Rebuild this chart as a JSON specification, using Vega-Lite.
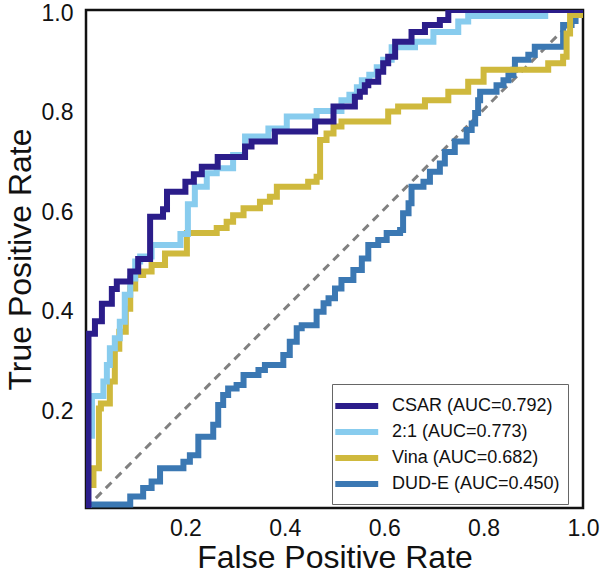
{
  "$schema": "https://vega.github.io/schema/vega-lite/v6.json",
  "autosize": {"type": "none"},
  "width": 497,
  "height": 498,
  "padding": {"left": 86, "top": 10, "right": 17, "bottom": 68},
  "background": "white",
  "datasets": {
    "roc": [
      {"model": "CSAR (AUC=0.792)", "fpr": 0, "tpr": 0},
      {"model": "CSAR (AUC=0.792)", "fpr": 0.005, "tpr": 0.35},
      {"model": "CSAR (AUC=0.792)", "fpr": 0.018, "tpr": 0.375},
      {"model": "CSAR (AUC=0.792)", "fpr": 0.032, "tpr": 0.41},
      {"model": "CSAR (AUC=0.792)", "fpr": 0.052, "tpr": 0.44},
      {"model": "CSAR (AUC=0.792)", "fpr": 0.062, "tpr": 0.455},
      {"model": "CSAR (AUC=0.792)", "fpr": 0.089, "tpr": 0.475},
      {"model": "CSAR (AUC=0.792)", "fpr": 0.105, "tpr": 0.5},
      {"model": "CSAR (AUC=0.792)", "fpr": 0.129, "tpr": 0.585},
      {"model": "CSAR (AUC=0.792)", "fpr": 0.155, "tpr": 0.6},
      {"model": "CSAR (AUC=0.792)", "fpr": 0.163, "tpr": 0.635},
      {"model": "CSAR (AUC=0.792)", "fpr": 0.2, "tpr": 0.655},
      {"model": "CSAR (AUC=0.792)", "fpr": 0.217, "tpr": 0.67},
      {"model": "CSAR (AUC=0.792)", "fpr": 0.233, "tpr": 0.685},
      {"model": "CSAR (AUC=0.792)", "fpr": 0.265, "tpr": 0.705},
      {"model": "CSAR (AUC=0.792)", "fpr": 0.32, "tpr": 0.726},
      {"model": "CSAR (AUC=0.792)", "fpr": 0.333, "tpr": 0.736},
      {"model": "CSAR (AUC=0.792)", "fpr": 0.38, "tpr": 0.756},
      {"model": "CSAR (AUC=0.792)", "fpr": 0.461, "tpr": 0.776},
      {"model": "CSAR (AUC=0.792)", "fpr": 0.498, "tpr": 0.806},
      {"model": "CSAR (AUC=0.792)", "fpr": 0.541, "tpr": 0.826},
      {"model": "CSAR (AUC=0.792)", "fpr": 0.551, "tpr": 0.836},
      {"model": "CSAR (AUC=0.792)", "fpr": 0.561, "tpr": 0.849},
      {"model": "CSAR (AUC=0.792)", "fpr": 0.568, "tpr": 0.856},
      {"model": "CSAR (AUC=0.792)", "fpr": 0.588, "tpr": 0.876},
      {"model": "CSAR (AUC=0.792)", "fpr": 0.598, "tpr": 0.893},
      {"model": "CSAR (AUC=0.792)", "fpr": 0.608, "tpr": 0.906},
      {"model": "CSAR (AUC=0.792)", "fpr": 0.622, "tpr": 0.936},
      {"model": "CSAR (AUC=0.792)", "fpr": 0.655, "tpr": 0.956},
      {"model": "CSAR (AUC=0.792)", "fpr": 0.682, "tpr": 0.97},
      {"model": "CSAR (AUC=0.792)", "fpr": 0.712, "tpr": 0.98},
      {"model": "CSAR (AUC=0.792)", "fpr": 0.729, "tpr": 1.0},
      {"model": "CSAR (AUC=0.792)", "fpr": 1.0, "tpr": 1.0},

      {"model": "2:1 (AUC=0.773)", "fpr": 0, "tpr": 0},
      {"model": "2:1 (AUC=0.773)", "fpr": 0.004, "tpr": 0.145},
      {"model": "2:1 (AUC=0.773)", "fpr": 0.012, "tpr": 0.225},
      {"model": "2:1 (AUC=0.773)", "fpr": 0.035, "tpr": 0.254},
      {"model": "2:1 (AUC=0.773)", "fpr": 0.042, "tpr": 0.287},
      {"model": "2:1 (AUC=0.773)", "fpr": 0.048, "tpr": 0.321},
      {"model": "2:1 (AUC=0.773)", "fpr": 0.058, "tpr": 0.341},
      {"model": "2:1 (AUC=0.773)", "fpr": 0.068, "tpr": 0.374},
      {"model": "2:1 (AUC=0.773)", "fpr": 0.078, "tpr": 0.428},
      {"model": "2:1 (AUC=0.773)", "fpr": 0.089, "tpr": 0.461},
      {"model": "2:1 (AUC=0.773)", "fpr": 0.099, "tpr": 0.495},
      {"model": "2:1 (AUC=0.773)", "fpr": 0.109, "tpr": 0.505},
      {"model": "2:1 (AUC=0.773)", "fpr": 0.132, "tpr": 0.528},
      {"model": "2:1 (AUC=0.773)", "fpr": 0.19, "tpr": 0.55},
      {"model": "2:1 (AUC=0.773)", "fpr": 0.205, "tpr": 0.61},
      {"model": "2:1 (AUC=0.773)", "fpr": 0.219, "tpr": 0.645},
      {"model": "2:1 (AUC=0.773)", "fpr": 0.243, "tpr": 0.672},
      {"model": "2:1 (AUC=0.773)", "fpr": 0.263, "tpr": 0.682},
      {"model": "2:1 (AUC=0.773)", "fpr": 0.296, "tpr": 0.709},
      {"model": "2:1 (AUC=0.773)", "fpr": 0.32, "tpr": 0.746},
      {"model": "2:1 (AUC=0.773)", "fpr": 0.367, "tpr": 0.762},
      {"model": "2:1 (AUC=0.773)", "fpr": 0.404, "tpr": 0.786},
      {"model": "2:1 (AUC=0.773)", "fpr": 0.464, "tpr": 0.797},
      {"model": "2:1 (AUC=0.773)", "fpr": 0.514, "tpr": 0.819},
      {"model": "2:1 (AUC=0.773)", "fpr": 0.53, "tpr": 0.83},
      {"model": "2:1 (AUC=0.773)", "fpr": 0.545, "tpr": 0.845},
      {"model": "2:1 (AUC=0.773)", "fpr": 0.555, "tpr": 0.859},
      {"model": "2:1 (AUC=0.773)", "fpr": 0.57, "tpr": 0.87},
      {"model": "2:1 (AUC=0.773)", "fpr": 0.585, "tpr": 0.885},
      {"model": "2:1 (AUC=0.773)", "fpr": 0.598, "tpr": 0.9},
      {"model": "2:1 (AUC=0.773)", "fpr": 0.615, "tpr": 0.925},
      {"model": "2:1 (AUC=0.773)", "fpr": 0.662, "tpr": 0.936},
      {"model": "2:1 (AUC=0.773)", "fpr": 0.699, "tpr": 0.956},
      {"model": "2:1 (AUC=0.773)", "fpr": 0.749, "tpr": 0.977},
      {"model": "2:1 (AUC=0.773)", "fpr": 0.769, "tpr": 0.988},
      {"model": "2:1 (AUC=0.773)", "fpr": 0.924, "tpr": 1.0},
      {"model": "2:1 (AUC=0.773)", "fpr": 1.0, "tpr": 1.0},

      {"model": "Vina (AUC=0.682)", "fpr": 0, "tpr": 0},
      {"model": "Vina (AUC=0.682)", "fpr": 0.003, "tpr": 0.046},
      {"model": "Vina (AUC=0.682)", "fpr": 0.015, "tpr": 0.08},
      {"model": "Vina (AUC=0.682)", "fpr": 0.026, "tpr": 0.2},
      {"model": "Vina (AUC=0.682)", "fpr": 0.03, "tpr": 0.21},
      {"model": "Vina (AUC=0.682)", "fpr": 0.048, "tpr": 0.254},
      {"model": "Vina (AUC=0.682)", "fpr": 0.058, "tpr": 0.32},
      {"model": "Vina (AUC=0.682)", "fpr": 0.067, "tpr": 0.354},
      {"model": "Vina (AUC=0.682)", "fpr": 0.08, "tpr": 0.4},
      {"model": "Vina (AUC=0.682)", "fpr": 0.089, "tpr": 0.441},
      {"model": "Vina (AUC=0.682)", "fpr": 0.099, "tpr": 0.468},
      {"model": "Vina (AUC=0.682)", "fpr": 0.115, "tpr": 0.475},
      {"model": "Vina (AUC=0.682)", "fpr": 0.132, "tpr": 0.488},
      {"model": "Vina (AUC=0.682)", "fpr": 0.159, "tpr": 0.511},
      {"model": "Vina (AUC=0.682)", "fpr": 0.203, "tpr": 0.552},
      {"model": "Vina (AUC=0.682)", "fpr": 0.263, "tpr": 0.562},
      {"model": "Vina (AUC=0.682)", "fpr": 0.283, "tpr": 0.575},
      {"model": "Vina (AUC=0.682)", "fpr": 0.296, "tpr": 0.588},
      {"model": "Vina (AUC=0.682)", "fpr": 0.317, "tpr": 0.602},
      {"model": "Vina (AUC=0.682)", "fpr": 0.35, "tpr": 0.615},
      {"model": "Vina (AUC=0.682)", "fpr": 0.37, "tpr": 0.625},
      {"model": "Vina (AUC=0.682)", "fpr": 0.384, "tpr": 0.645},
      {"model": "Vina (AUC=0.682)", "fpr": 0.447, "tpr": 0.655},
      {"model": "Vina (AUC=0.682)", "fpr": 0.464, "tpr": 0.665},
      {"model": "Vina (AUC=0.682)", "fpr": 0.471, "tpr": 0.739},
      {"model": "Vina (AUC=0.682)", "fpr": 0.484, "tpr": 0.752},
      {"model": "Vina (AUC=0.682)", "fpr": 0.498, "tpr": 0.766},
      {"model": "Vina (AUC=0.682)", "fpr": 0.514, "tpr": 0.776},
      {"model": "Vina (AUC=0.682)", "fpr": 0.608, "tpr": 0.796},
      {"model": "Vina (AUC=0.682)", "fpr": 0.628, "tpr": 0.806},
      {"model": "Vina (AUC=0.682)", "fpr": 0.682, "tpr": 0.819},
      {"model": "Vina (AUC=0.682)", "fpr": 0.729, "tpr": 0.836},
      {"model": "Vina (AUC=0.682)", "fpr": 0.769, "tpr": 0.856},
      {"model": "Vina (AUC=0.682)", "fpr": 0.8, "tpr": 0.88},
      {"model": "Vina (AUC=0.682)", "fpr": 0.93, "tpr": 0.893},
      {"model": "Vina (AUC=0.682)", "fpr": 0.96, "tpr": 0.906},
      {"model": "Vina (AUC=0.682)", "fpr": 0.967, "tpr": 0.953},
      {"model": "Vina (AUC=0.682)", "fpr": 0.974, "tpr": 0.99},
      {"model": "Vina (AUC=0.682)", "fpr": 1.0, "tpr": 1.0},

      {"model": "DUD-E (AUC=0.450)", "fpr": 0, "tpr": 0},
      {"model": "DUD-E (AUC=0.450)", "fpr": 0.006, "tpr": 0.007},
      {"model": "DUD-E (AUC=0.450)", "fpr": 0.089, "tpr": 0.023},
      {"model": "DUD-E (AUC=0.450)", "fpr": 0.115, "tpr": 0.04},
      {"model": "DUD-E (AUC=0.450)", "fpr": 0.132, "tpr": 0.053},
      {"model": "DUD-E (AUC=0.450)", "fpr": 0.149, "tpr": 0.08},
      {"model": "DUD-E (AUC=0.450)", "fpr": 0.196, "tpr": 0.093},
      {"model": "DUD-E (AUC=0.450)", "fpr": 0.209, "tpr": 0.106},
      {"model": "DUD-E (AUC=0.450)", "fpr": 0.226, "tpr": 0.143},
      {"model": "DUD-E (AUC=0.450)", "fpr": 0.256, "tpr": 0.167},
      {"model": "DUD-E (AUC=0.450)", "fpr": 0.266, "tpr": 0.207},
      {"model": "DUD-E (AUC=0.450)", "fpr": 0.276, "tpr": 0.227},
      {"model": "DUD-E (AUC=0.450)", "fpr": 0.286, "tpr": 0.24},
      {"model": "DUD-E (AUC=0.450)", "fpr": 0.303, "tpr": 0.247},
      {"model": "DUD-E (AUC=0.450)", "fpr": 0.317, "tpr": 0.267},
      {"model": "DUD-E (AUC=0.450)", "fpr": 0.347, "tpr": 0.277},
      {"model": "DUD-E (AUC=0.450)", "fpr": 0.36, "tpr": 0.287},
      {"model": "DUD-E (AUC=0.450)", "fpr": 0.397, "tpr": 0.307},
      {"model": "DUD-E (AUC=0.450)", "fpr": 0.41, "tpr": 0.334},
      {"model": "DUD-E (AUC=0.450)", "fpr": 0.424, "tpr": 0.361},
      {"model": "DUD-E (AUC=0.450)", "fpr": 0.434, "tpr": 0.367},
      {"model": "DUD-E (AUC=0.450)", "fpr": 0.464, "tpr": 0.394},
      {"model": "DUD-E (AUC=0.450)", "fpr": 0.478, "tpr": 0.411},
      {"model": "DUD-E (AUC=0.450)", "fpr": 0.488, "tpr": 0.421},
      {"model": "DUD-E (AUC=0.450)", "fpr": 0.501, "tpr": 0.441},
      {"model": "DUD-E (AUC=0.450)", "fpr": 0.514, "tpr": 0.458},
      {"model": "DUD-E (AUC=0.450)", "fpr": 0.538, "tpr": 0.478},
      {"model": "DUD-E (AUC=0.450)", "fpr": 0.555, "tpr": 0.501},
      {"model": "DUD-E (AUC=0.450)", "fpr": 0.568, "tpr": 0.528},
      {"model": "DUD-E (AUC=0.450)", "fpr": 0.588, "tpr": 0.538},
      {"model": "DUD-E (AUC=0.450)", "fpr": 0.605, "tpr": 0.552},
      {"model": "DUD-E (AUC=0.450)", "fpr": 0.632, "tpr": 0.558},
      {"model": "DUD-E (AUC=0.450)", "fpr": 0.638, "tpr": 0.592},
      {"model": "DUD-E (AUC=0.450)", "fpr": 0.649, "tpr": 0.612},
      {"model": "DUD-E (AUC=0.450)", "fpr": 0.655, "tpr": 0.645},
      {"model": "DUD-E (AUC=0.450)", "fpr": 0.679, "tpr": 0.655},
      {"model": "DUD-E (AUC=0.450)", "fpr": 0.692, "tpr": 0.675},
      {"model": "DUD-E (AUC=0.450)", "fpr": 0.712, "tpr": 0.692},
      {"model": "DUD-E (AUC=0.450)", "fpr": 0.722, "tpr": 0.715},
      {"model": "DUD-E (AUC=0.450)", "fpr": 0.742, "tpr": 0.736},
      {"model": "DUD-E (AUC=0.450)", "fpr": 0.766, "tpr": 0.759},
      {"model": "DUD-E (AUC=0.450)", "fpr": 0.776, "tpr": 0.772},
      {"model": "DUD-E (AUC=0.450)", "fpr": 0.783, "tpr": 0.793},
      {"model": "DUD-E (AUC=0.450)", "fpr": 0.789, "tpr": 0.819},
      {"model": "DUD-E (AUC=0.450)", "fpr": 0.793, "tpr": 0.836},
      {"model": "DUD-E (AUC=0.450)", "fpr": 0.826, "tpr": 0.849},
      {"model": "DUD-E (AUC=0.450)", "fpr": 0.84, "tpr": 0.859},
      {"model": "DUD-E (AUC=0.450)", "fpr": 0.85, "tpr": 0.869},
      {"model": "DUD-E (AUC=0.450)", "fpr": 0.86, "tpr": 0.88},
      {"model": "DUD-E (AUC=0.450)", "fpr": 0.863, "tpr": 0.9},
      {"model": "DUD-E (AUC=0.450)", "fpr": 0.89, "tpr": 0.91},
      {"model": "DUD-E (AUC=0.450)", "fpr": 0.903, "tpr": 0.926},
      {"model": "DUD-E (AUC=0.450)", "fpr": 0.96, "tpr": 0.97},
      {"model": "DUD-E (AUC=0.450)", "fpr": 0.977, "tpr": 0.978},
      {"model": "DUD-E (AUC=0.450)", "fpr": 0.985, "tpr": 1.0},
      {"model": "DUD-E (AUC=0.450)", "fpr": 1.0, "tpr": 1.0}
    ]
  },
  "config": {
    "view": {"stroke": "#111111", "strokeWidth": 2.5},
    "font": "Liberation Sans",
    "axis": {
      "grid": false,
      "domain": false,
      "ticks": false,
      "labelFont": "Liberation Sans",
      "labelFontSize": 23,
      "labelColor": "#111111",
      "titleFont": "Liberation Sans",
      "titleFontSize": 32,
      "titleFontWeight": "normal",
      "titleColor": "#111111"
    },
    "legend": {
      "orient": "none",
      "legendX": 246,
      "legendY": 374,
      "title": null,
      "symbolType": "M-1.7,0H2.2",
      "symbolSize": 484,
      "symbolStrokeWidth": 6,
      "labelFont": "Liberation Sans",
      "labelFontSize": 18,
      "labelColor": "#111111",
      "labelOffset": 24,
      "labelLimit": 400,
      "rowPadding": 0,
      "padding": 8,
      "strokeColor": "#666666",
      "fillColor": "#ffffff"
    }
  },
  "encoding": {
    "x": {
      "field": "fpr",
      "type": "quantitative",
      "scale": {"domain": [0, 1], "nice": false, "zero": false},
      "axis": {"title": "False Positive Rate", "values": [0.2, 0.4, 0.6, 0.8, 1.0], "format": ".1f", "labelPadding": 9, "titlePadding": 2, "labelFlush": false}
    },
    "y": {
      "field": "tpr",
      "type": "quantitative",
      "scale": {"domain": [0, 1], "nice": false, "zero": false},
      "axis": {"title": "True Positive Rate", "values": [0.2, 0.4, 0.6, 0.8, 1.0], "format": ".1f", "labelPadding": 13, "titlePadding": 4, "labelFlush": false, "labelOffset": 3}
    }
  },
  "layer": [
    {
      "data": {"values": [{"fpr": 0, "tpr": 0}, {"fpr": 1, "tpr": 1}]},
      "mark": {"type": "line", "color": "#808080", "strokeWidth": 3, "strokeDash": [8, 6], "clip": true},
      "encoding": {}
    },
    {
      "data": {"name": "roc"},
      "transform": [{"filter": "datum.model === 'DUD-E (AUC=0.450)'"}],
      "mark": {"type": "line", "interpolate": "step-after", "strokeWidth": 6, "strokeJoin": "miter", "clip": true},
      "encoding": {"color": {"field": "model", "type": "nominal", "scale": {"domain": ["CSAR (AUC=0.792)", "2:1 (AUC=0.773)", "Vina (AUC=0.682)", "DUD-E (AUC=0.450)"], "range": ["#2b1d8a", "#88ccee", "#cfb93d", "#3b78b3"]}}}
    },
    {
      "data": {"name": "roc"},
      "transform": [{"filter": "datum.model === 'Vina (AUC=0.682)'"}],
      "mark": {"type": "line", "interpolate": "step-after", "strokeWidth": 6, "strokeJoin": "miter", "clip": true},
      "encoding": {"color": {"field": "model", "type": "nominal", "scale": {"domain": ["CSAR (AUC=0.792)", "2:1 (AUC=0.773)", "Vina (AUC=0.682)", "DUD-E (AUC=0.450)"], "range": ["#2b1d8a", "#88ccee", "#cfb93d", "#3b78b3"]}}}
    },
    {
      "data": {"name": "roc"},
      "transform": [{"filter": "datum.model === '2:1 (AUC=0.773)'"}],
      "mark": {"type": "line", "interpolate": "step-after", "strokeWidth": 6, "strokeJoin": "miter", "clip": true},
      "encoding": {"color": {"field": "model", "type": "nominal", "scale": {"domain": ["CSAR (AUC=0.792)", "2:1 (AUC=0.773)", "Vina (AUC=0.682)", "DUD-E (AUC=0.450)"], "range": ["#2b1d8a", "#88ccee", "#cfb93d", "#3b78b3"]}}}
    },
    {
      "data": {"name": "roc"},
      "transform": [{"filter": "datum.model === 'CSAR (AUC=0.792)'"}],
      "mark": {"type": "line", "interpolate": "step-after", "strokeWidth": 6, "strokeJoin": "miter", "clip": true},
      "encoding": {"color": {"field": "model", "type": "nominal", "scale": {"domain": ["CSAR (AUC=0.792)", "2:1 (AUC=0.773)", "Vina (AUC=0.682)", "DUD-E (AUC=0.450)"], "range": ["#2b1d8a", "#88ccee", "#cfb93d", "#3b78b3"]}}}
    }
  ]
}
